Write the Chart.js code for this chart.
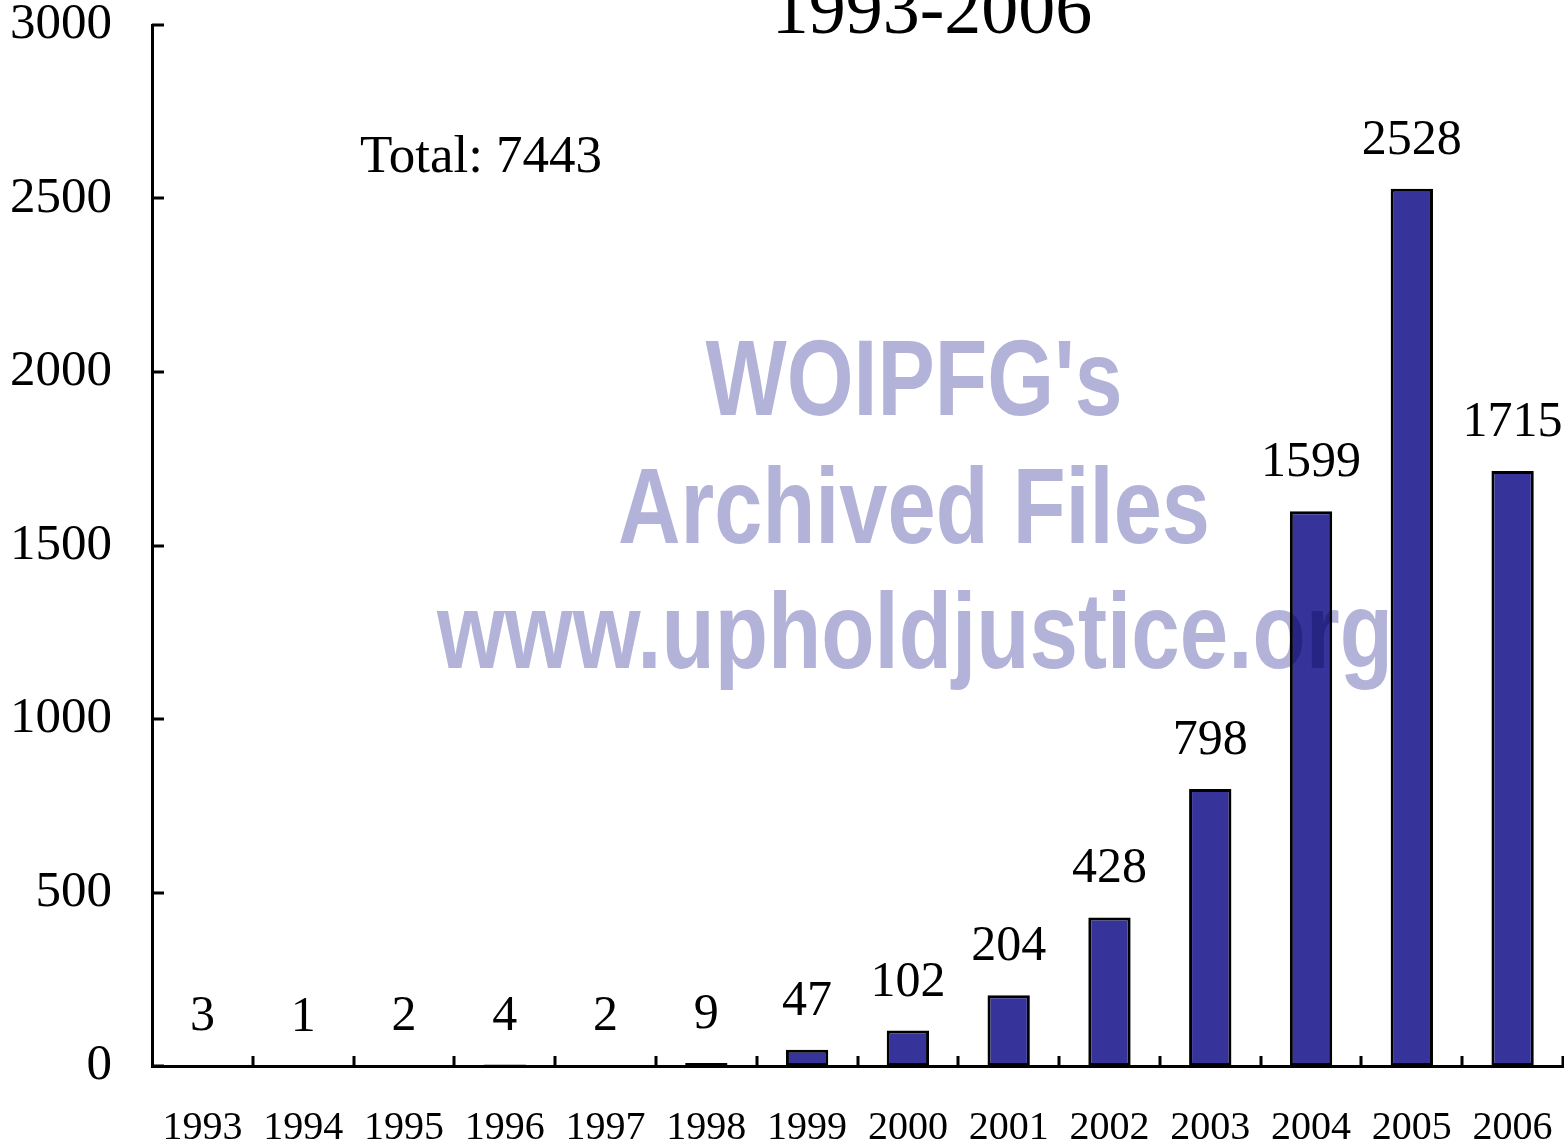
<!DOCTYPE html>
<html>
<head>
<meta charset="utf-8">
<script src="https://cdn.jsdelivr.net/npm/chart.js@4.4.1/dist/chart.umd.min.js"></script>
<style>
  html, body { margin: 0; padding: 0; background: #fff; }
  #wrap { width: 1564px; height: 1145px; }
</style>
</head>
<body>
<div id="wrap"><canvas id="chart" width="1564" height="1145"></canvas></div>
<script>
// data
const years = ['1993', '1994', '1995', '1996', '1997', '1998', '1999', '2000', '2001', '2002', '2003', '2004', '2005', '2006'];
const counts = [3, 1, 2, 4, 2, 9, 47, 102, 204, 428, 798, 1599, 2528, 1715];
const yTicks = [0, 500, 1000, 1500, 2000, 2500, 3000];
const titleText = '1993-2006';
const totalText = 'Total: 7443';
const watermark = ["WOIPFG's", 'Archived Files', 'www.upholdjustice.org'];

const serif = '"Liberation Serif", "Times New Roman", serif';

// inward tick marks on both axes
const tickMarks = {
    id: 'tickMarks',
    afterDraw(chart) {
        const ctx = chart.ctx;
        const x = chart.scales.x, y = chart.scales.y;
        const area = chart.chartArea;
        const step = x.getPixelForValue(1) - x.getPixelForValue(0);
        ctx.save();
        ctx.strokeStyle = '#000';
        ctx.lineWidth = 3;
        ctx.beginPath();
        yTicks.forEach(v => {
            const py = Math.round(y.getPixelForValue(v));
            ctx.moveTo(area.left, py);
            ctx.lineTo(area.left + 12, py);
        });
        // boundaries between categories
        for (let i = 0; i < years.length; i++) {
            const px = Math.round(x.getPixelForValue(i) + step / 2);
            ctx.moveTo(px, area.bottom);
            ctx.lineTo(px, area.bottom - 10);
        }
        ctx.stroke();
        ctx.restore();
    }
};

// value labels, total, title
const texts = {
    id: 'texts',
    afterDatasetsDraw(chart) {
        const ctx = chart.ctx;
        const meta = chart.getDatasetMeta(0);
        ctx.save();
        ctx.fillStyle = '#000';
        ctx.textAlign = 'center';
        ctx.textBaseline = 'alphabetic';
        ctx.font = '50px ' + serif;
        meta.data.forEach((bar, i) => {
            ctx.fillText(String(counts[i]), bar.x, bar.y - 35);
        });
        ctx.textAlign = 'left';
        ctx.font = '53px ' + serif;
        ctx.fillText(totalText, 360, 172);
        ctx.textAlign = 'center';
        ctx.font = '74px ' + serif;
        ctx.fillText(titleText, 932, 33);
        ctx.restore();
    }
};

// semi-transparent watermark printed over the bars
const stamp = {
    id: 'stamp',
    afterDraw(chart) {
        const ctx = chart.ctx;
        const spots = [
            { cx: 914, base: 415, w: 417 },
            { cx: 914, base: 543, w: 592 },
            { cx: 915, base: 668, w: 956 }
        ];
        ctx.save();
        ctx.globalCompositeOperation = 'multiply';
        ctx.fillStyle = '#b3b3da';
        ctx.font = 'bold 87px "Liberation Sans", Arial, sans-serif';
        ctx.textAlign = 'center';
        ctx.textBaseline = 'alphabetic';
        watermark.forEach((t, i) => {
            const s = spots[i];
            const mw = ctx.measureText(t).width;
            ctx.save();
            ctx.translate(s.cx, s.base);
            ctx.scale(s.w / mw, 1.24);
            ctx.fillText(t, 0, 0);
            ctx.restore();
        });
        ctx.restore();
    }
};

new Chart(document.getElementById('chart'), {
    type: 'bar',
    data: {
        labels: years,
        datasets: [{
            data: counts,
            backgroundColor: '#36349a',
            borderColor: '#000',
            borderWidth: 3,
            borderSkipped: false,
            barPercentage: 0.42,
            categoryPercentage: 1
        }]
    },
    options: {
        responsive: false,
        animation: false,
        devicePixelRatio: 1,
        layout: { padding: { top: 25, right: 1, left: 0, bottom: 0 } },
        plugins: { legend: { display: false }, tooltip: { enabled: false }, title: { display: false } },
        scales: {
            x: {
                grid: { display: false, drawTicks: false },
                border: { display: true, color: '#000', width: 3 },
                ticks: { color: '#000', font: { family: serif, size: 40 }, padding: 38, maxRotation: 0, autoSkip: false },
                afterFit: s => { s.height = 79; s.paddingLeft = 0; s.paddingRight = 0; }
            },
            y: {
                min: 0,
                max: 3000,
                grid: { display: false, drawTicks: false },
                border: { display: true, color: '#000', width: 3 },
                afterBuildTicks: s => { s.ticks = yTicks.map(v => ({ value: v })); },
                ticks: { color: '#000', font: { family: serif, size: 51 }, padding: 40, callback: v => String(v) },
                afterFit: s => { s.width = 152; s.paddingTop = 0; s.paddingBottom = 0; }
            }
        }
    },
    plugins: [tickMarks, texts, stamp]
});
</script>
</body>
</html>
